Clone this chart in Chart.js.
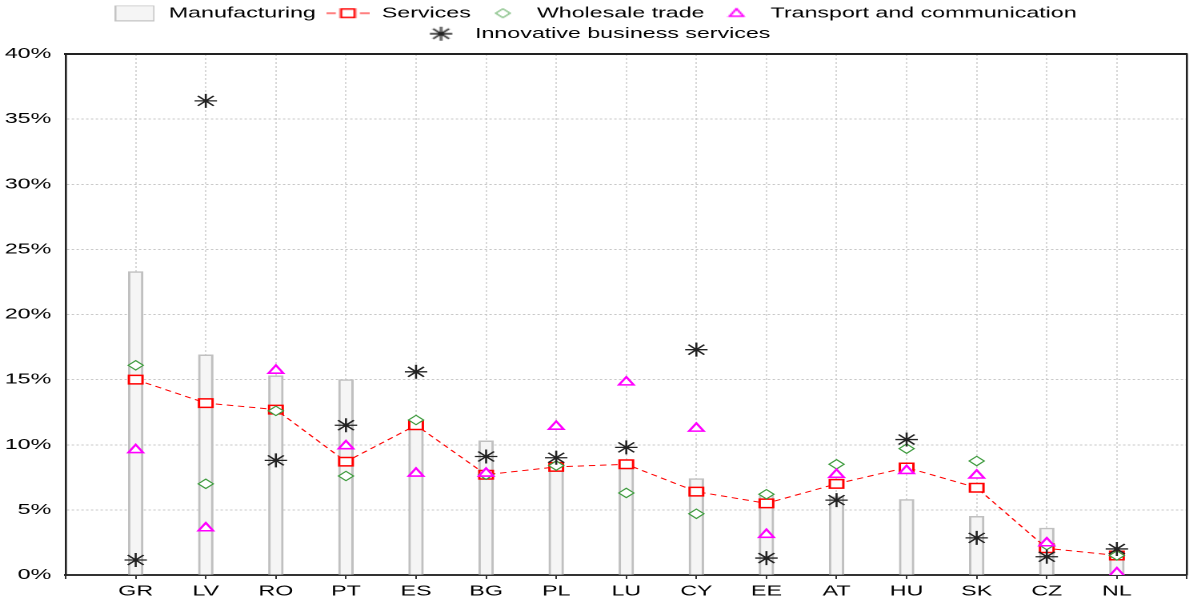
<!DOCTYPE html>
<html>
<head>
<meta charset="utf-8">
<script src="https://cdn.jsdelivr.net/npm/chart.js@4.4.0/dist/chart.umd.min.js"></script>
<style>
  html, body { margin: 0; padding: 0; background: #fff; overflow: hidden; }
  /* the reference is stretched sideways, so draw narrow and widen */
  #wrap { width: 750px; height: 602px; transform: scaleX(1.6003); transform-origin: 0 0; }
</style>
</head>
<body>
<div id="wrap"><canvas id="chart" width="750" height="602"></canvas></div>
<script>
const countries = ["GR", "LV", "RO", "PT", "ES", "BG", "PL", "LU", "CY", "EE", "AT", "HU", "SK", "CZ", "NL"];
const manufacturing = [23.3, 16.9, 15.3, 15.0, 11.8, 10.3, 8.3, 8.2, 7.4, 6.1, 6.0, 5.8, 4.5, 3.6, 1.3];
const services = [15.0, 13.2, 12.7, 8.7, 11.5, 7.7, 8.3, 8.5, 6.4, 5.5, 7.0, 8.25, 6.7, 2.05, 1.5];
const wholesale = [16.1, 7.0, 12.6, 7.6, 11.9, 7.7, 8.4, 6.3, 4.7, 6.2, 8.5, 9.7, 8.75, 2.3, 1.5];
const transport = [9.6, 3.6, 15.7, 9.9, 7.8, 7.8, 11.4, 14.8, 11.25, 3.1, 7.7, 8.0, 7.65, 2.45, 0.15];
const innovative = [1.15, 36.4, 8.8, 11.5, 15.6, 9.1, 9.0, 9.8, 17.3, 1.3, 5.75, 10.4, 2.85, 1.4, 2.0];
const yTicks = [0, 5, 10, 15, 20, 25, 30, 35, 40];

const FONT = "'Liberation Sans', Arial, sans-serif";
const RED = "#ff0000", GREEN = "#3c9a3c", MAGENTA = "#ff00ff", DARK = "#222222";

// empty slot at each end, like the original axis
const labels = [""].concat(countries, [""]);
const pad = arr => [null].concat(arr, [null]);

function icon(w, h, draw) {
  const c = document.createElement("canvas");
  c.width = w; c.height = h;
  draw(c.getContext("2d"));
  return c;
}
const legendIcons = [
  icon(25, 16, g => {
    g.fillStyle = "#f5f5f5"; g.fillRect(0, 0, 25, 16);
    g.strokeStyle = "#c4c4c4"; g.lineWidth = 1; g.strokeRect(0.5, 0.5, 24, 15);
  }),
  icon(27, 12, g => {
    g.strokeStyle = RED; g.lineWidth = 1;
    g.beginPath(); g.moveTo(0, 6); g.lineTo(6, 6); g.moveTo(21, 6); g.lineTo(27, 6); g.stroke();
    g.lineWidth = 1.5; g.strokeRect(9.25, 1.75, 8.5, 8.5);
  }),
  icon(12, 12, g => {
    g.strokeStyle = GREEN; g.lineWidth = 1;
    g.beginPath(); g.moveTo(6, 1.5); g.lineTo(10.5, 6); g.lineTo(6, 10.5); g.lineTo(1.5, 6); g.closePath(); g.stroke();
  }),
  icon(12, 12, g => {
    g.strokeStyle = MAGENTA; g.lineWidth = 1.5;
    g.beginPath(); g.moveTo(6, 1.5); g.lineTo(10.3, 9); g.lineTo(1.7, 9); g.closePath(); g.stroke();
  }),
  icon(16, 16, g => {
    g.strokeStyle = DARK; g.lineWidth = 1.3;
    g.beginPath();
    g.moveTo(1, 8); g.lineTo(15, 8); g.moveTo(8, 1); g.lineTo(8, 15);
    g.moveTo(3, 3); g.lineTo(13, 13); g.moveTo(13, 3); g.lineTo(3, 13);
    g.stroke();
  })
];

new Chart(document.getElementById("chart"), {
  data: {
    labels: labels,
    datasets: [
      {
        type: "bar", label: "Manufacturing", data: pad(manufacturing),
        backgroundColor: "#f5f5f5", borderColor: "#c0c0c0", borderWidth: 1.5,
        barThickness: 9, order: 5
      },
      {
        type: "line", label: "Services", data: pad(services),
        borderColor: RED, borderWidth: 1, borderDash: [4, 3],
        pointStyle: "rect", pointRadius: 6, pointBorderWidth: 1.5,
        pointBorderColor: RED, pointBackgroundColor: "#fff", order: 4
      },
      {
        type: "line", label: "Wholesale trade", data: pad(wholesale), showLine: false,
        pointStyle: "rectRot", pointRadius: 4.7, pointBorderWidth: 1,
        pointBorderColor: GREEN, pointBackgroundColor: "#fff", order: 3
      },
      {
        type: "line", label: "Transport and communication", data: pad(transport), showLine: false,
        pointStyle: "triangle", pointRadius: 5.3, pointBorderWidth: 1.6,
        pointBorderColor: MAGENTA, pointBackgroundColor: "#fff", order: 2
      },
      {
        type: "line", label: "Innovative business services", data: pad(innovative), showLine: false,
        pointStyle: "star", pointRadius: 7, pointBorderWidth: 1.3,
        pointBorderColor: DARK, order: 1
      }
    ]
  },
  options: {
    responsive: false,
    devicePixelRatio: 2,
    animation: false,
    // canvas is a bit wider than the page; the extra right padding keeps the legend centred
    layout: { padding: { left: 0, top: 0, bottom: 0, right: 7 } },
    plugins: {
      tooltip: { enabled: false },
      legend: {
        position: "top",
        labels: {
          usePointStyle: true,
          pointStyleWidth: 28,
          boxHeight: 12,
          padding: 6,
          color: "#000",
          font: { family: FONT, size: 14.5 },
          sort: (a, b) => a.datasetIndex - b.datasetIndex,
          generateLabels: chart => {
            const items = Chart.defaults.plugins.legend.labels.generateLabels(chart);
            items.forEach(it => { it.pointStyle = legendIcons[it.datasetIndex]; it.rotation = 0; });
            return items;
          }
        }
      }
    },
    scales: {
      x: {
        type: "category",
        offset: false,
        grid: { offset: false, color: "#c8c8c8", lineWidth: 0.7, tickLength: 4, tickColor: "#000", tickWidth: 0.8, tickBorderDash: [] },
        border: { color: "#333", width: 2, dash: [2, 2] },
        ticks: { color: "#000", font: { family: FONT, size: 14.5 }, padding: 4, autoSkip: false, maxRotation: 0 },
        afterFit: s => { s.height = 27; }
      },
      x2: {
        type: "category",
        position: "top",
        offset: false,
        grid: { offset: false, drawOnChartArea: false, drawTicks: false },
        border: { color: "#222", width: 2 },
        ticks: { display: false },
        afterFit: s => { s.height = 3; }
      },
      y: {
        min: 0, max: 40,
        afterBuildTicks: s => { s.ticks = yTicks.map(v => ({ value: v })); },
        grid: { color: "#c8c8c8", lineWidth: 1, drawTicks: false },
        border: { color: DARK, width: 1.3, dash: [1.5, 1.5] },
        ticks: { color: "#000", font: { family: FONT, size: 14.5 }, padding: 9, callback: v => v + "%" },
        afterFit: s => { s.width = 41; }
      },
      y2: {
        position: "right",
        min: 0, max: 40,
        grid: { drawOnChartArea: false, drawTicks: false },
        border: { color: DARK, width: 1.3 },
        ticks: { display: false },
        afterFit: s => { s.width = 1; }
      }
    }
  }
});
</script>
</body>
</html>
